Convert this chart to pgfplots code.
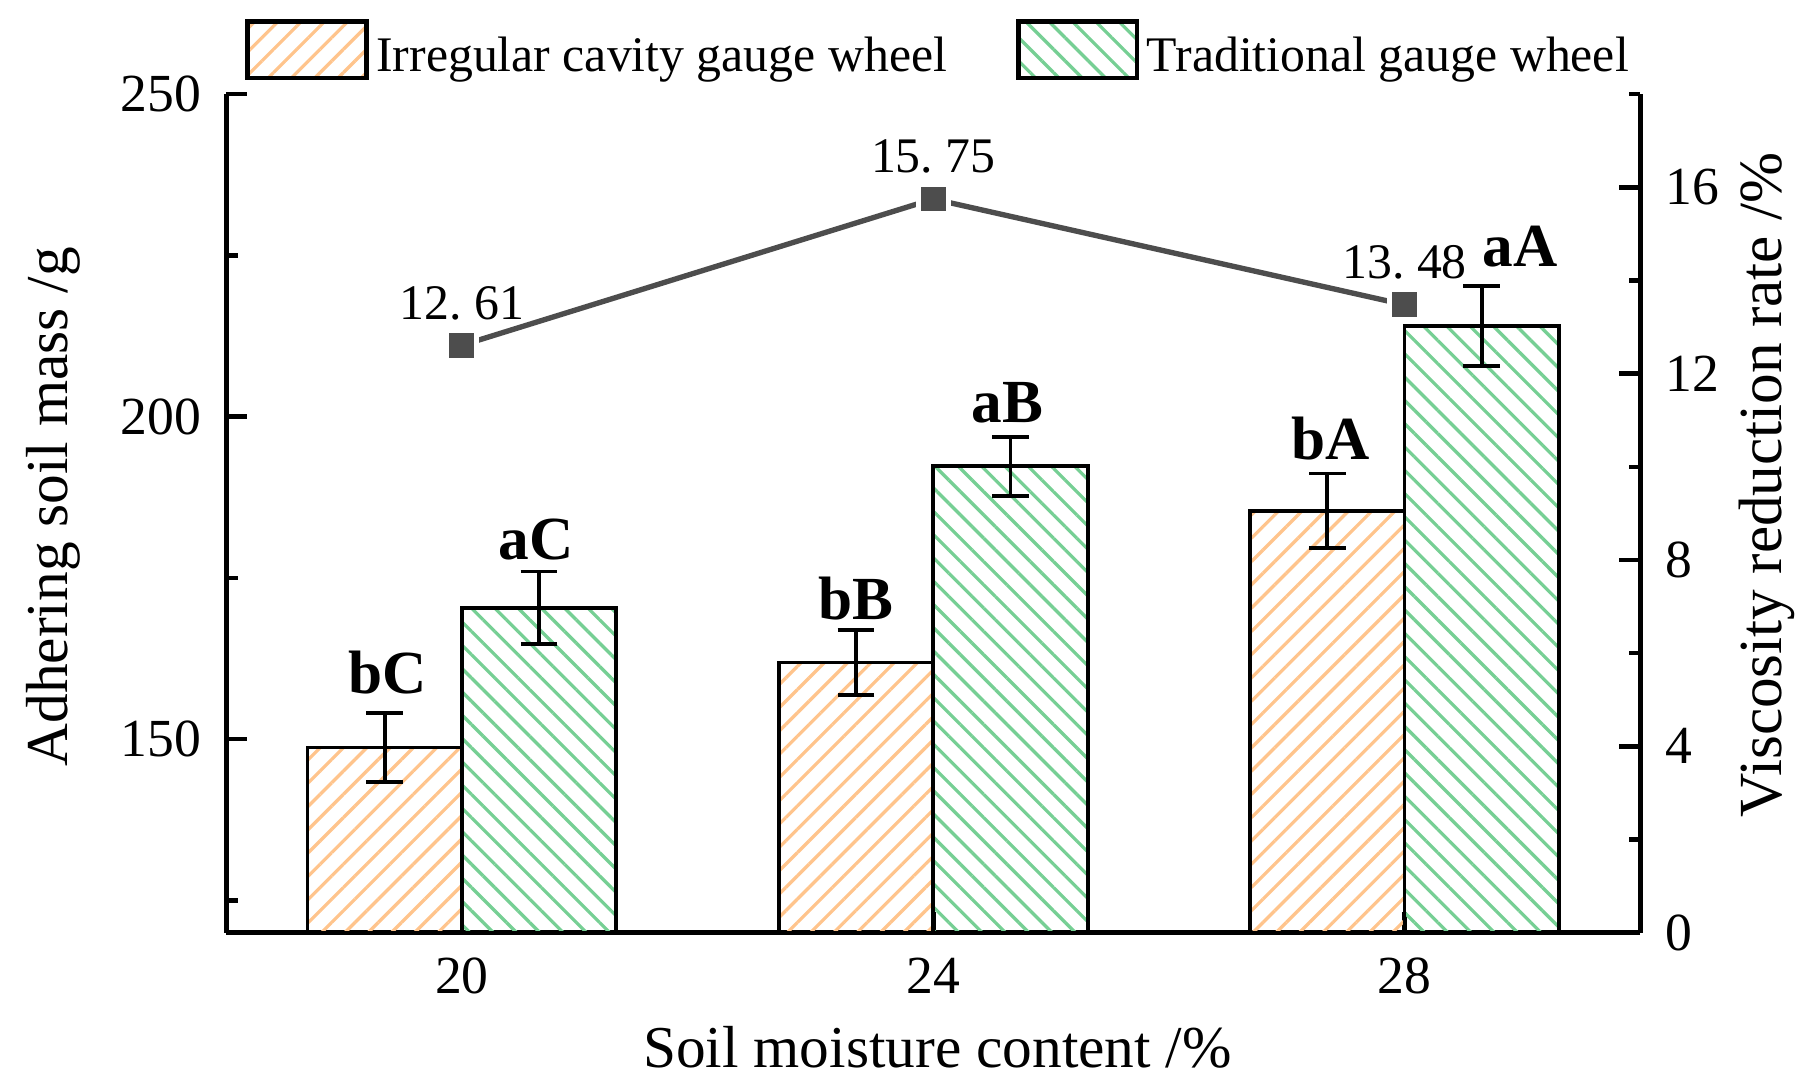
\documentclass[border=0pt]{standalone}
\usepackage{fontspec}
\setmainfont{Liberation Serif}
\usepackage{pgfplots}
\pgfplotsset{compat=1.18}
\usetikzlibrary{patterns.meta, calc}

\definecolor{orng}{HTML}{FFC48C}
\definecolor{grn}{HTML}{76CF94}
\definecolor{lgray}{HTML}{4D4D4D}

\pgfplotsset{boxlegend/.style={legend image code/.code={\draw[##1, line width=1.2pt] (0pt,-5.35pt) rectangle (31pt,9.35pt);}}}

\pgfplotstableread{
x y e
19.345 148.7 5.3
23.345 161.9 5.0
27.345 185.4 5.8
}\irreg
\pgfplotstableread{
x y e
20.655 170.4 5.6
24.655 192.3 4.6
28.655 214.1 6.2
}\trad
\pgfplotstableread{
x y lab
20 12.61 {12.\ 61}
24 15.75 {15.\ 75}
28 13.48 {13.\ 48}
}\rate

\begin{document}
\begin{tikzpicture}
\begin{axis}[
  width=369.3pt, height=219pt, scale only axis,
  xmin=18, xmax=30, ymin=120, ymax=250,
  axis x line*=bottom, axis y line*=left,
  axis line style={line width=1.2pt, -},
  xtick={20,24,28},
  ytick={150,200,250}, minor ytick={125,175,225},
  tick align=inside,
  major tick length=5.5pt, minor tick length=3pt,
  every tick/.style={line width=1.2pt, black},
  tick label style={font=\fontsize{14}{16}\selectfont},
  xticklabel style={yshift=-3pt},
  yticklabel style={xshift=-3pt},
  /pgf/number format/assume math mode=true,
  xlabel={Soil moisture content /\%},
  ylabel={Adhering soil mass /g},
  label style={font=\fontsize{15.5}{18}\selectfont},
  xlabel style={at={(axis description cs:0.503,-0.137)}, anchor=center},
  ylabel style={at={(axis description cs:-0.122,0.508)}, anchor=center},
  legend columns=2,
  legend style={draw=none, fill=none, at={(axis description cs:0.013,1.050)}, anchor=west,
    font=\fontsize{13}{15}\selectfont, inner sep=0pt,
    /tikz/every even column/.append style={column sep=16pt}},
  clip=false,
]
\coordinate (O) at (rel axis cs:0,0);
\addplot[ybar, bar width=1.31, bar shift=0pt, draw=black, line width=1pt,
  pattern={Lines[angle=45, distance=4.3pt, line width=0.85pt]}, pattern color=orng, boxlegend,
  error bars/.cd, y dir=both, y explicit,
  error bar style={line width=1pt, black, solid},
  error mark options={rotate=90, mark size=4.8pt, line width=1pt, black}]
  table[x=x, y=y, y error=e] {\irreg};
\addlegendentry{Irregular cavity gauge wheel}
\addplot[ybar, bar width=1.31, bar shift=0pt, draw=black, line width=1pt,
  pattern={Lines[angle=-45, distance=4.3pt, line width=0.85pt]}, pattern color=grn, boxlegend,
  error bars/.cd, y dir=both, y explicit,
  error bar style={line width=1pt, black, solid},
  error mark options={rotate=90, mark size=4.8pt, line width=1pt, black}]
  table[x=x, y=y, y error=e] {\trad};
\addlegendentry{Traditional gauge wheel}

\begin{scope}[every node/.style={font=\bfseries\fontsize{16}{18}\selectfont, anchor=south, inner sep=0pt}]
\node at (axis cs:19.37,156.8) {bC};
\node at (axis cs:20.63,177.6) {aC};
\node at (axis cs:23.34,168.3) {bB};
\node at (axis cs:24.63,198.9) {aB};
\node at (axis cs:27.37,193.2) {bA};
\node at (axis cs:28.98,223.1) {aA};
\end{scope}
\end{axis}

\begin{axis}[
  width=369.3pt, height=219pt, scale only axis,
  xmin=18, xmax=30, ymin=0, ymax=18,
  axis x line=none, axis y line*=right,
  axis line style={line width=1.2pt, -},
  ytick={0,4,8,12,16}, minor ytick={2,6,10,14,18},
  tick align=inside,
  major tick length=5.5pt, minor tick length=3pt,
  every tick/.style={line width=1.2pt, black},
  tick label style={font=\fontsize{14}{16}\selectfont},
  yticklabel style={xshift=3pt},
  /pgf/number format/assume math mode=true,
  ylabel={Viscosity reduction rate /\%},
  label style={font=\fontsize{16}{18}\selectfont},
  ylabel style={at={(axis description cs:1.0894,0.534)}, anchor=center},
  clip=false,
]
\addplot[lgray, line width=1.4pt, mark=square*, mark size=3.9pt,
  mark options={fill=lgray, draw=white, line width=1.3pt},
  nodes near coords, point meta=explicit symbolic,
  nodes near coords style={font=\fontsize{13}{15}\selectfont, black, anchor=south, inner sep=0pt, yshift=6pt}]
  table[x=x, y=y, meta=lab] {\rate};
\end{axis}

\pgfresetboundingbox
\path[use as bounding box] ($(O)+(-59.1pt,-41.4pt)$) rectangle ($(O)+(411.3pt,243.6pt)$);
\end{tikzpicture}
\end{document}
